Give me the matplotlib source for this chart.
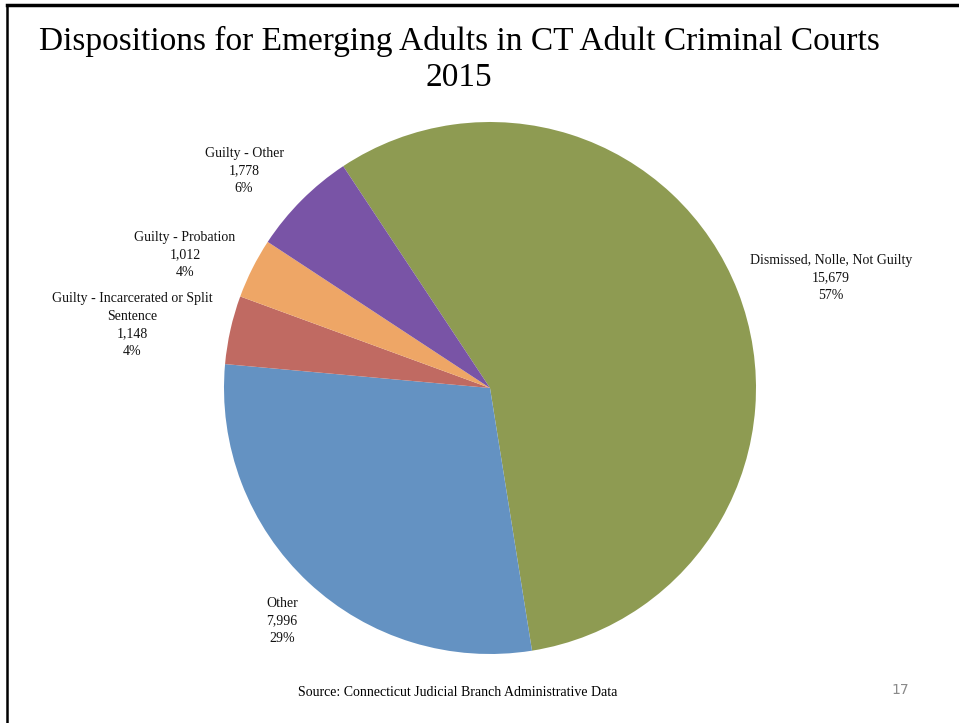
import matplotlib.pyplot as plt
from matplotlib.lines import Line2D

# disposition counts, drawn clockwise from the top-left
categories = [
    "Dismissed, Nolle, Not Guilty",
    "Other",
    "Guilty - Incarcerated or Split\nSentence",
    "Guilty - Probation",
    "Guilty - Other",
]
counts = [15679, 7996, 1148, 1012, 1778]
colors = ["#8E9B52", "#6492C2", "#C06A62", "#EEA666", "#7954A6"]

# label anchor points in figure pixels (x, y from top)
label_pos = [(831, 278), (282, 621), (132, 325), (185, 255), (244, 171)]

W, H = 959, 723
plt.rcParams["font.family"] = ["Liberation Serif", "DejaVu Serif"]

fig = plt.figure(figsize=(W / 100, H / 100), dpi=100)
fig.patch.set_facecolor("white")

# pie centre at (490, 388) px, radius 266 px
cx, cy, r = 490, 388, 266
ax = fig.add_axes([(cx - r) / W, (H - cy - r) / H, 2 * r / W, 2 * r / H])
ax.pie(counts, colors=colors, startangle=123.5, counterclock=False,
       radius=1.0, wedgeprops={"linewidth": 0})
ax.set_xlim(-1, 1)
ax.set_ylim(-1, 1)
ax.set_aspect("equal")
ax.axis("off")

total = sum(counts)
for name, n, (px, py) in zip(categories, counts, label_pos):
    pct = round(100 * n / total)
    fig.text(px / W, 1 - py / H, f"{name}\n{n:,}\n{pct}%",
             ha="center", va="center", fontsize=10, linespacing=1.45,
             color="#111111")

fig.text(459 / W, 1 - 41 / H, "Dispositions for Emerging Adults in CT Adult Criminal Courts",
         ha="center", va="center", fontsize=24)
fig.text(459 / W, 1 - 78 / H, "2015", ha="center", va="center", fontsize=24)

fig.text(458 / W, 1 - 692 / H, "Source: Connecticut Judicial Branch Administrative Data",
         ha="center", va="center", fontsize=10)
fig.text(900 / W, 1 - 690 / H, "17", ha="center", va="center", fontsize=10,
         color="#8a8a8a", family="DejaVu Sans")

# slide frame: top and left rules
fig.add_artist(Line2D([7 / W, 1], [1 - 5 / H, 1 - 5 / H], color="black", lw=2.5,
                      transform=fig.transFigure))
fig.add_artist(Line2D([7 / W, 7 / W], [0, 1 - 5 / H], color="black", lw=1.8,
                      transform=fig.transFigure))

fig.savefig("out.png", dpi=100)
